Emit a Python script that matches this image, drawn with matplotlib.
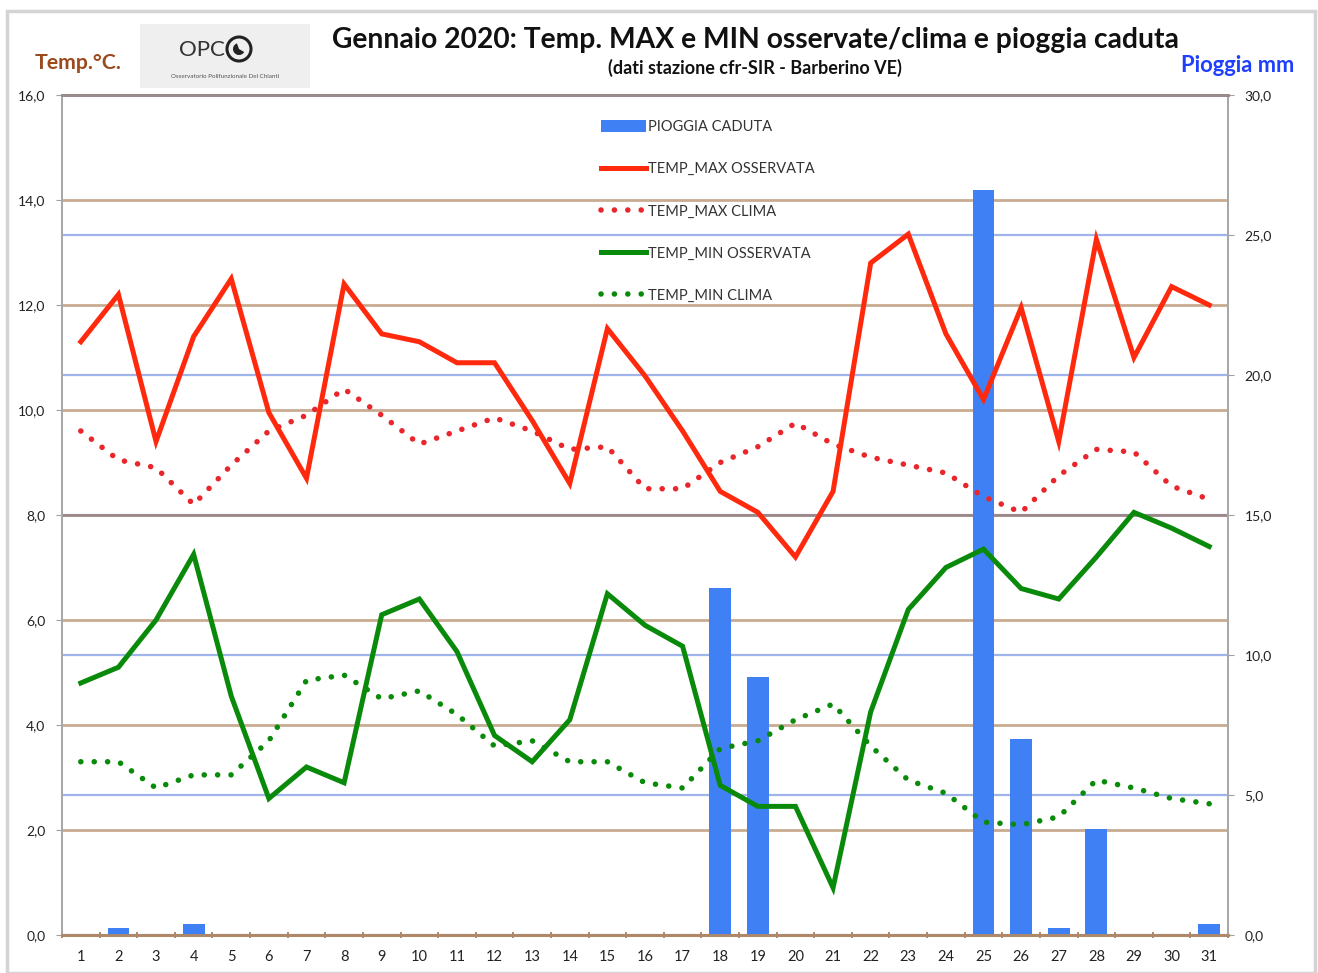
import matplotlib
matplotlib.use('Agg')
import matplotlib.pyplot as plt
import matplotlib.transforms as mtransforms
from matplotlib.lines import Line2D
from matplotlib.patches import Patch, Rectangle, Circle, Wedge
from matplotlib.ticker import FuncFormatter
import numpy as np

plt.rcParams['font.family'] = ['Lato', 'DejaVu Sans']

# dati
giorni = list(range(1, 32))
tmax_oss = [11.3, 12.2, 9.4, 11.4, 12.5, 9.95, 8.7, 12.4, 11.45, 11.3, 10.9, 10.9, 9.8, 8.6, 11.55,
            10.65, 9.6, 8.45, 8.05, 7.2, 8.45, 12.8, 13.35, 11.45, 10.2, 11.95, 9.4, 13.25, 11.0, 12.35, 12.0]
tmax_clima = [9.6, 9.05, 8.9, 8.2, 8.95, 9.6, 9.9, 10.4, 9.9, 9.35, 9.6, 9.85, 9.6, 9.25, 9.3,
              8.5, 8.5, 9.0, 9.3, 9.75, 9.35, 9.1, 8.95, 8.8, 8.35, 8.05, 8.75, 9.25, 9.2, 8.55, 8.3]
tmin_oss = [4.8, 5.1, 6.0, 7.25, 4.55, 2.6, 3.2, 2.9, 6.1, 6.4, 5.4, 3.8, 3.3, 4.1, 6.5,
            5.9, 5.5, 2.85, 2.45, 2.45, 0.9, 4.25, 6.2, 7.0, 7.35, 6.6, 6.4, 7.2, 8.05, 7.75, 7.4]
tmin_clima = [3.3, 3.3, 2.8, 3.05, 3.05, 3.7, 4.85, 4.95, 4.5, 4.65, 4.2, 3.6, 3.7, 3.3, 3.3,
              2.9, 2.8, 3.55, 3.7, 4.1, 4.4, 3.6, 2.95, 2.7, 2.15, 2.1, 2.25, 2.95, 2.8, 2.6, 2.5]
pioggia = [0, 0.25, 0, 0.4, 0, 0, 0, 0, 0, 0, 0, 0, 0, 0, 0,
           0, 0, 12.4, 9.2, 0, 0, 0, 0, 0, 26.6, 7.0, 0.25, 3.8, 0, 0, 0.4]

temp_ticks = np.arange(0, 16.1, 2)
rain_ticks = np.arange(0, 30.1, 5)

ROSSO = '#ff2a0d'
ROSSO_CLIMA = '#e8262b'
VERDE = '#0a8a0a'
BLU = '#4080f5'
MARRONE = '#c9ab90'
AZZURRO = '#9fb4ea'
PUNTI = (0, (0.01, 2.4))

fig = plt.figure(figsize=(13.18, 9.73), dpi=100)

# cornice grigia intorno al grafico
fig.patches.append(Rectangle((7 / 1318, 0.0), 1308 / 1318, 962 / 973, transform=fig.transFigure,
                             fill=False, edgecolor='#d4d4d4', lw=2.5))

ax = fig.add_axes([62 / 1318, 38 / 973, 1166 / 1318, 840 / 973])
ax_r = ax.twinx()
ax.set_zorder(ax_r.get_zorder() + 1)
ax.patch.set_visible(False)

# pioggia (asse destro)
ax_r.bar(giorni, pioggia, width=0.58, color=BLU, zorder=3)
ax_r.set_ylim(0, 30)
ax_r.set_yticks(rain_ticks)
ax_r.yaxis.set_major_formatter(FuncFormatter(lambda v, p: f'{v:.1f}'.replace('.', ',')))
ax_r.set_axisbelow(True)
ax_r.yaxis.grid(True, color=AZZURRO, lw=1.6)

# linee orizzontali della temperatura (dietro alle barre)
trans = mtransforms.blended_transform_factory(ax_r.transAxes, ax.transData)
for t in temp_ticks[1:-1]:
    c = '#9c8686' if t == 8 else MARRONE
    ax_r.add_line(Line2D([0, 1], [t, t], transform=trans, color=c, lw=2, zorder=1))

# temperature (asse sinistro)
ax.plot(giorni, tmax_oss, color=ROSSO, lw=3.6, solid_joinstyle='miter', zorder=5)
ax.plot(giorni, tmax_clima, color=ROSSO_CLIMA, lw=4, linestyle=PUNTI, dash_capstyle='round', zorder=4)
ax.plot(giorni, tmin_oss, color=VERDE, lw=3.6, solid_joinstyle='miter', zorder=5)
ax.plot(giorni, tmin_clima, color=VERDE, lw=4, linestyle=PUNTI, dash_capstyle='round', zorder=4)

ax.set_xlim(0.5, 31.5)
ax.set_ylim(0, 16)
ax.set_yticks(temp_ticks)
ax.yaxis.set_major_formatter(FuncFormatter(lambda v, p: f'{v:.1f}'.replace('.', ',')))
ax.set_xticks(giorni)
ax.set_xticks(np.arange(0.5, 32, 1), minor=True)
ax.tick_params(axis='x', which='major', length=0, pad=11, labelsize=10.5, labelcolor='#222222')
ax.tick_params(axis='x', which='minor', length=5, direction='inout', color='#b08868', width=1.4)
ax.tick_params(axis='y', length=4, color='#a0a0a0', labelsize=10, labelcolor='#222222', pad=8)
ax_r.tick_params(axis='y', length=4, color='#a0a0a0', labelsize=10, labelcolor='#222222', pad=8)
ax_r.tick_params(axis='x', length=0)

for a in (ax, ax_r):
    a.spines['left'].set_color('#a8a8a8')
    a.spines['right'].set_color('#a8a8a8')
    a.spines['bottom'].set_color('#b08868')
    a.spines['bottom'].set_linewidth(2)
    a.spines['top'].set_color('#9a8a8a')
    a.spines['top'].set_linewidth(2)
    a.spines['left'].set_linewidth(1.3)
    a.spines['right'].set_linewidth(1.3)

# legenda
handles = [Patch(facecolor=BLU, edgecolor='none'),
           Line2D([], [], color=ROSSO, lw=3.6),
           Line2D([], [], color=ROSSO_CLIMA, lw=4, linestyle=PUNTI, dash_capstyle='round'),
           Line2D([], [], color=VERDE, lw=3.6),
           Line2D([], [], color=VERDE, lw=4, linestyle=PUNTI, dash_capstyle='round')]
labels = ['PIOGGIA CADUTA', 'TEMP_MAX OSSERVATA', 'TEMP_MAX CLIMA', 'TEMP_MIN OSSERVATA', 'TEMP_MIN CLIMA']
leg = ax.legend(handles, labels, loc='upper left', bbox_to_anchor=(588 / 1318, 1 - 107 / 973),
                bbox_transform=fig.transFigure, frameon=False, fontsize=10.5, labelspacing=1.93,
                handlelength=3.1, handletextpad=0.1, handleheight=0.8)
for t in leg.get_texts():
    t.set_color('#333333')

# titoli
fig.text(755 / 1318, 1 - 40 / 973, 'Gennaio 2020: Temp. MAX e MIN osservate/clima e pioggia caduta',
         ha='center', va='center', fontsize=20.3, fontweight='bold', color='#111111')
fig.text(755 / 1318, 1 - 68 / 973, '(dati stazione cfr-SIR - Barberino VE)',
         ha='center', va='center', fontsize=13, fontweight='bold', color='#111111')
fig.text(78 / 1318, 1 - 63 / 973, 'Temp.°C.', ha='center', va='center', fontsize=15.3,
         fontweight='bold', color='#9b4a1c')
fig.text(1238 / 1318, 1 - 65 / 973, 'Pioggia mm', ha='center', va='center', fontsize=15.8,
         fontweight='bold', color='#1f3fff')

# logo OPC
logo = fig.add_axes([140 / 1318, 1 - 88 / 973, 170 / 1318, 64 / 973])
logo.set_xlim(0, 170)
logo.set_ylim(0, 64)
logo.axis('off')
logo.add_patch(Rectangle((0, 0), 170, 64, facecolor='#efefef', edgecolor='none'))
logo.text(62, 38, 'OPC', ha='center', va='center', fontsize=16, color='#333333')
logo.add_patch(Circle((99, 39), 12, fill=False, edgecolor='#222222', lw=2.2))
logo.add_patch(Wedge((99, 39), 6, 110, 330, facecolor='#222222', edgecolor='none'))
logo.text(85, 12, 'Osservatorio Polifunzionale Del Chianti', ha='center', va='center',
          fontsize=4.5, color='#555555')

fig.savefig('out.png', dpi=100)
